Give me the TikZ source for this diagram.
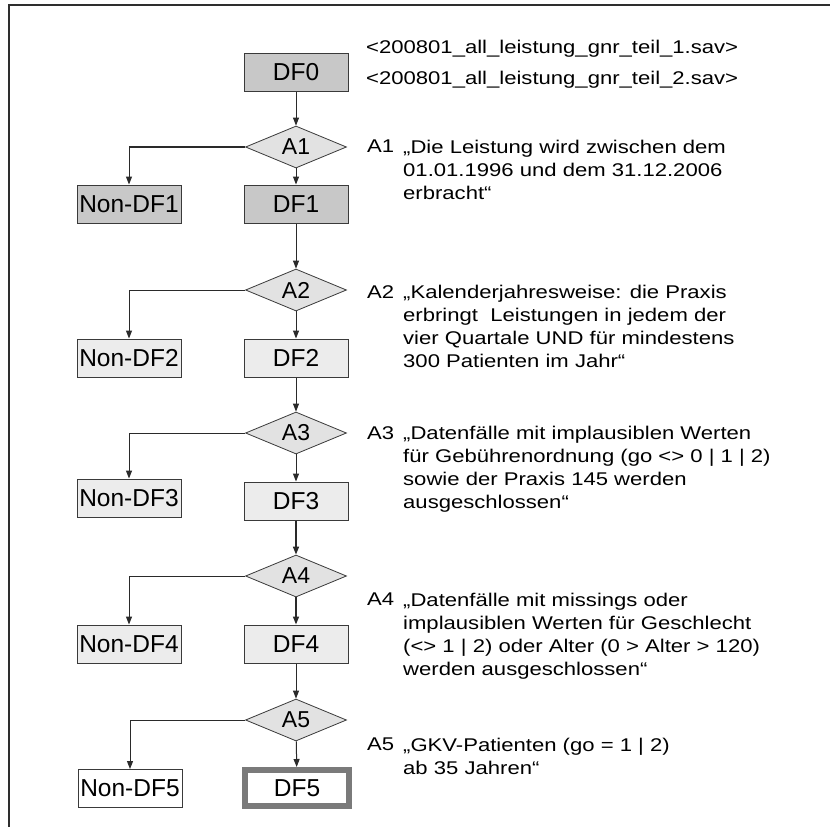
\documentclass[tikz,border=0pt]{standalone}
\usepackage{fontspec}
\setmainfont{Liberation Sans}
\newfontfamily\widefont{Liberation Sans}[FakeStretch=1.2]
\usetikzlibrary{shapes.geometric,arrows.meta}
\definecolor{darkfill}{HTML}{C8C8C8}
\definecolor{lightfill}{HTML}{ECECEC}
\definecolor{diafill}{HTML}{E2E2E2}
\definecolor{boxline}{HTML}{3A3A3A}
\definecolor{linec}{HTML}{2A2A2A}
\definecolor{framec}{HTML}{2E2E2E}
\definecolor{thickc}{HTML}{7A7A7A}
\tikzset{
  box/.style={draw=boxline, line width=1pt, minimum width=104pt, minimum height=38pt,
    inner sep=0pt, font=\fontsize{24.5}{24.5}\selectfont},
  dbox/.style={box, fill=darkfill},
  lbox/.style={box, fill=lightfill},
  wbox/.style={box, fill=white},
  finalbox/.style={box, fill=white, draw=thickc, line width=6pt, minimum width=104pt, minimum height=36pt},
  dec/.style={diamond, aspect=2.4, draw=boxline, fill=diafill, line width=0.8pt,
    minimum width=101pt, minimum height=42pt, inner sep=0pt, font=\fontsize{23}{23}\selectfont},
  note/.style={anchor=north west, inner sep=0pt, align=left, font=\widefont\fontsize{18.4}{23}\selectfont},
  conn/.style={draw=linec, line width=1pt, -{Triangle[length=8pt,width=6pt]}},
  plain/.style={draw=linec, line width=1pt},
}
\begin{document}
\begin{tikzpicture}[x=1pt,y=-1pt]
\useasboundingbox (0,0) rectangle (830,827);
\fill[white] (0,0) rectangle (830,827);
% frame
\coordinate (fr1) at (830,5);
\coordinate (fr2) at (9,5);
\coordinate (fr3) at (9,827);
\draw[framec, line width=1.6pt] (fr1) -- (fr2) -- (fr3);

% main column
\node[dbox] (DF0) at (296,72) {DF0};
\node[dec] (A1) at (296,147) {A1};
\node[dbox] (DF1) at (296,204) {DF1};
\node[dbox] (N1) at (129,204) {Non-DF1};
\node[dec] (A2) at (296,290) {A2};
\node[lbox] (DF2) at (296,358) {DF2};
\node[lbox] (N2) at (129,358) {Non-DF2};
\node[dec] (A3) at (296,433) {A3};
\node[lbox] (DF3) at (296,501) {DF3};
\node[lbox] (N3) at (129,498) {Non-DF3};
\node[dec] (A4) at (296,576) {A4};
\node[lbox] (DF4) at (296,644) {DF4};
\node[lbox] (N4) at (129,644) {Non-DF4};
\node[dec] (A5) at (296,720) {A5};
\node[finalbox] (DF5) at (297,788) {DF5};
\node[wbox] (N5) at (130,788.5) {Non-DF5};

% connectors
\draw[conn] (DF0) -- (A1);
\draw[conn] (A1) -- (DF1);
\coordinate (k1) at (A1.west -| N1.north);
\draw[plain, line width=2pt] (A1.west) -- (k1);
\draw[conn] (k1) -- (N1.north);
\draw[conn] (DF1) -- (A2);
\draw[conn] (A2) -- (DF2);
\draw[conn] (A2.west) -| (N2.north);
\draw[conn] (DF2) -- (A3);
\draw[conn] (A3) -- (DF3);
\draw[conn] (A3.west) -| (N3.north);
\draw[conn, line width=1.5pt] (DF3) -- (A4);
\draw[conn, line width=1.5pt] (A4) -- (DF4);
\draw[conn] (A4.west) -| (N4.north);
\draw[conn] (DF4) -- (A5);
\draw[conn] (A5) -- (DF5);
\draw[conn] (A5.west) -| (N5.north);

% texts
\node[note, font=\widefont\fontsize{18.4}{31}\selectfont] (sav) at (366,40)
  {<200801\_all\_leistung\_gnr\_teil\_1.sav>\\<200801\_all\_leistung\_gnr\_teil\_2.sav>};
\node[note] (l1) at (367,140) {A1};
\node[note] (t1) at (403,140) {„Die Leistung wird zwischen dem\\01.01.1996 und dem 31.12.2006\\erbracht“};
\node[note] (l2) at (367,285) {A2};
\node[note] (t2) at (403,285) {„Kalenderjahresweise: die Praxis\\erbringt\ \ Leistungen in jedem der\\vier Quartale UND für mindestens\\300 Patienten im Jahr“};
\node[note] (l3) at (367,426) {A3};
\node[note] (t3) at (403,426) {„Datenfälle mit implausiblen Werten\\für Gebührenordnung (go <> 0 | 1 | 2)\\sowie der Praxis 145 werden\\ausgeschlossen“};
\node[note] (l4) at (367,593) {A4};
\node[note] (t4) at (403,593) {„Datenfälle mit missings oder\\implausiblen Werten für Geschlecht\\(<> 1 | 2) oder Alter (0 > Alter > 120)\\werden ausgeschlossen“};
\node[note] (l5) at (367,738) {A5};
\node[note] (t5) at (403,738) {„GKV-Patienten (go = 1 | 2)\\ab 35 Jahren“};
\end{tikzpicture}
\end{document}
